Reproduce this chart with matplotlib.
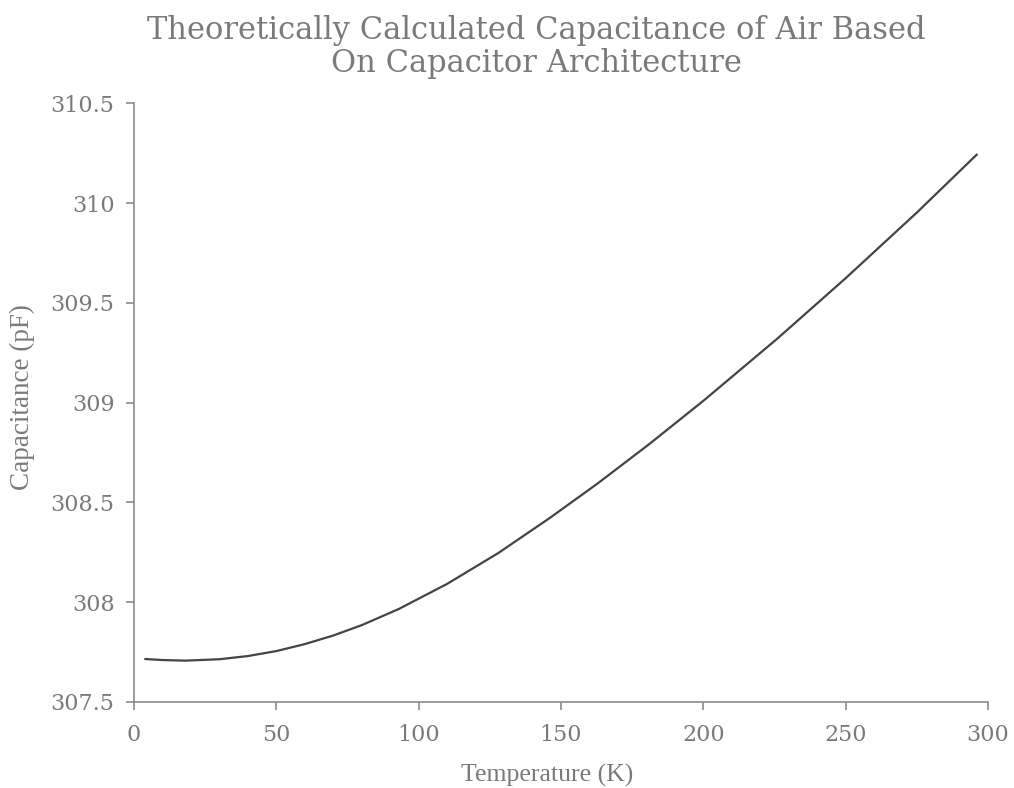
import matplotlib
matplotlib.use("Agg")
import matplotlib.pyplot as plt

# temperatura (K) e capacitância (pF)
temperatura = [4, 10, 18, 30, 40, 50, 60, 70, 80, 93, 110, 128, 146, 163,
               181, 200, 226, 250, 275, 296]
capacitancia = [307.714, 307.709, 307.706, 307.713, 307.729, 307.754, 307.789,
                307.832, 307.884, 307.965, 308.091, 308.246, 308.421, 308.596,
                308.792, 309.009, 309.321, 309.624, 309.953, 310.243]

x_ticks = [0, 50, 100, 150, 200, 250, 300]
y_ticks = [307.5, 308, 308.5, 309, 309.5, 310, 310.5]
y_tick_labels = ["307.5", "308", "308.5", "309", "309.5", "310", "310.5"]

titulo = "Theoretically Calculated Capacitance of Air Based\nOn Capacitor Architecture"

cinza_texto = "#7a7a7a"
cinza_eixo = "#8c8c8c"

fig = plt.figure(figsize=(10.14, 7.88), dpi=100)
ax = fig.add_axes([0.1322, 0.1095, 0.8422, 0.7592])

ax.plot(temperatura, capacitancia, color="#444444", lw=1.6,
        solid_joinstyle="round")

ax.set_xlim(0, 300)
ax.set_ylim(307.5, 310.5)
ax.set_xticks(x_ticks)
ax.set_yticks(y_ticks)
ax.set_yticklabels(y_tick_labels)

for s in ["top", "right"]:
    ax.spines[s].set_visible(False)
for s in ["left", "bottom"]:
    ax.spines[s].set_color(cinza_eixo)
    ax.spines[s].set_linewidth(1.2)

ax.tick_params(axis="both", direction="out", length=6, width=1.2,
               color=cinza_eixo, labelcolor=cinza_texto, labelsize=16)
ax.tick_params(axis="y", pad=8)
ax.tick_params(axis="x", pad=10)
for lbl in ax.get_xticklabels() + ax.get_yticklabels():
    lbl.set_family("DejaVu Serif")

ax.set_xlabel("Temperature (K)", family="Liberation Serif", fontsize=18.5,
              color=cinza_texto)
ax.set_ylabel("Capacitance (pF)", family="Liberation Serif", fontsize=19.5,
              color=cinza_texto)
ax.xaxis.set_label_coords(0.4836, -0.104)
ax.yaxis.set_label_coords(-0.116, 0.51)

fig.text(0.529, 0.94, titulo, ha="center", va="center", family="DejaVu Serif",
         fontsize=22, color=cinza_texto, linespacing=1.08)

fig.savefig("out.png", dpi=100, facecolor="white")
